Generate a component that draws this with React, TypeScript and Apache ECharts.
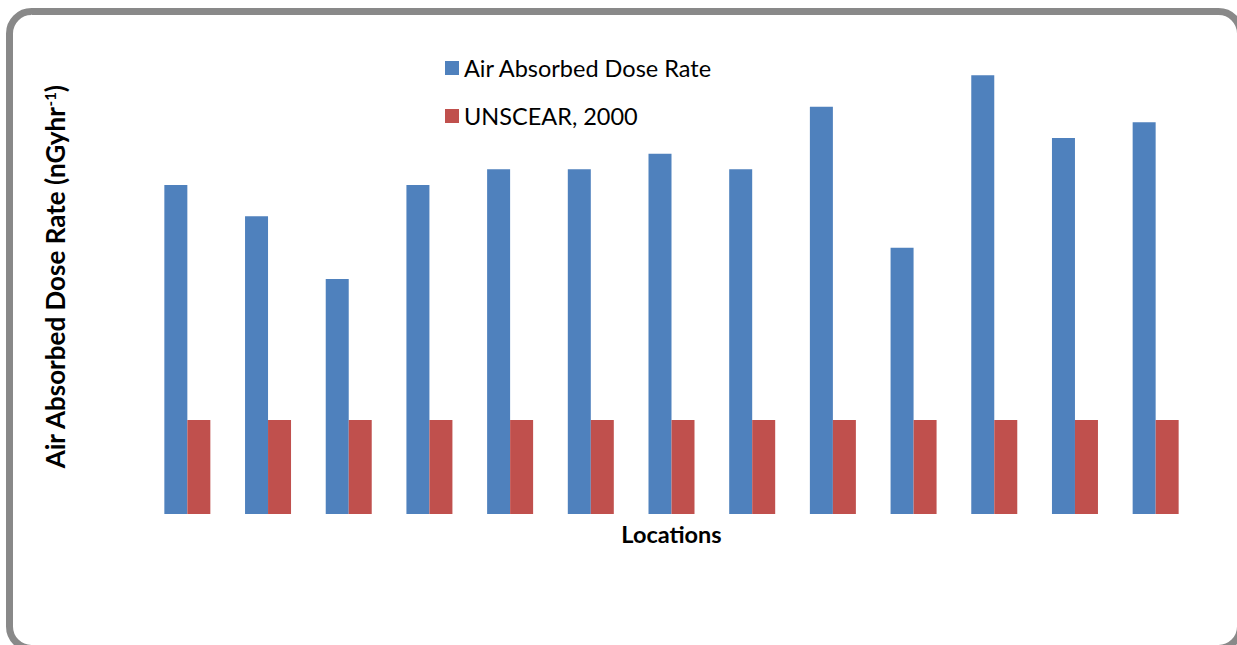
import React, { useEffect, useRef } from "react";
import * as echarts from "echarts";

const locations = ["L1", "L2", "L3", "L4", "L5", "L6", "L7", "L8", "L9", "L10", "L11", "L12", "L13"];
const airDoseRate = [210, 190, 150, 210, 220, 220, 230, 220, 260, 170, 280, 240, 250];
const unscear2000 = [60, 60, 60, 60, 60, 60, 60, 60, 60, 60, 60, 60, 60];

const FONT = "Lato, 'Open Sans', sans-serif";

export default function App() {
  const ref = useRef<HTMLDivElement>(null);
  useEffect(() => {
    if (!ref.current) return;
    const chart = echarts.init(ref.current, null, { renderer: "svg" });
    chart.setOption({
      animation: false,
      backgroundColor: "#ffffff",
      textStyle: { fontFamily: FONT },
      grid: { left: 147, right: 41, top: 44, bottom: 131 },
      legend: {
        orient: "vertical",
        left: 440,
        top: 51,
        itemWidth: 14,
        itemHeight: 14,
        itemGap: 24,
        icon: "rect",
        textStyle: { fontSize: 23.5, color: "#000", fontFamily: FONT },
        data: ["Air Absorbed Dose Rate", "UNSCEAR, 2000"],
      },
      xAxis: {
        type: "category",
        data: locations,
        axisLine: { show: false },
        axisTick: { show: false },
        axisLabel: { show: false },
        name: "Locations",
        nameLocation: "middle",
        nameGap: 8,
        nameTextStyle: { fontSize: 23.5, fontWeight: "bold", color: "#000", fontFamily: FONT },
      },
      yAxis: {
        type: "value",
        min: 0,
        max: 300,
        interval: 50,
        axisLine: { show: false },
        axisTick: { show: false },
        axisLabel: { show: false },
        splitLine: { show: false },
      },
      graphic: [
        {
          type: "rect",
          shape: { x: 9.5, y: 11.5, width: 1231, height: 637, r: 22 },
          style: { fill: "none", stroke: "#898989", lineWidth: 7 },
          silent: true,
        },
        {
          type: "text",
          x: 55,
          y: 277,
          rotation: Math.PI / 2,
          style: {
            text: "{a|Air Absorbed Dose Rate (nGyhr}{s|-1}{a|)}",
            rich: {
              a: { fontSize: 26, fontWeight: "bold", fill: "#000", fontFamily: FONT },
              s: { fontSize: 15, fontWeight: "bold", fill: "#000", fontFamily: FONT, verticalAlign: "top", padding: [0, 0, 11, 0] },
            },
            align: "center",
            verticalAlign: "middle",
          },
        },
      ],
      series: [
        {
          name: "Air Absorbed Dose Rate",
          type: "bar",
          data: airDoseRate,
          barWidth: 23,
          barGap: "0%",
          itemStyle: { color: "#4F81BD" },
        },
        {
          name: "UNSCEAR, 2000",
          type: "bar",
          data: unscear2000,
          barWidth: 23,
          barGap: "0%",
          itemStyle: { color: "#C0504D" },
        },
      ],
    });
    return () => chart.dispose();
  }, []);
  return <div ref={ref} style={{ position: "fixed", left: 0, top: 0, width: 1237, height: 645 }} />;
}
